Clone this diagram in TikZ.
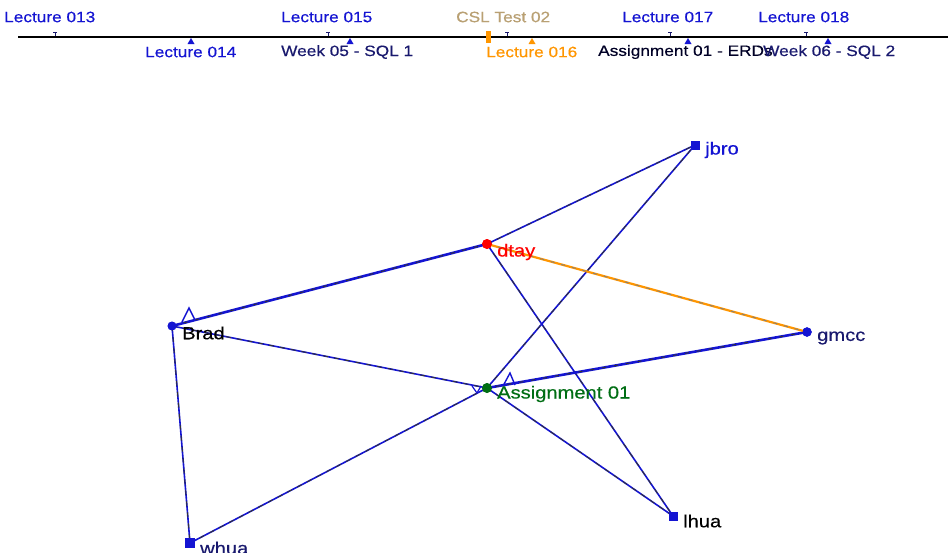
\documentclass[tikz,border=0pt]{standalone}
\usepackage{fontspec}
\newfontfamily\lab[FakeStretch=1.15,FakeBold=0.4]{Liberation Sans}
\definecolor{lblue}{RGB}{20,20,210}
\definecolor{navy}{RGB}{25,25,110}
\definecolor{dgreen}{RGB}{0,110,20}
\definecolor{orng}{RGB}{255,150,0}
\definecolor{cslc}{RGB}{185,160,115}
\begin{document}
\begin{tikzpicture}[x=1pt,y=-1pt,
  tl/.style={inner sep=0pt,anchor=west,font=\lab\fontsize{15}{16}\selectfont},
  gl/.style={inner sep=0pt,anchor=west,font=\lab\fontsize{17.5}{18}\selectfont},
  sq/.style={fill=lblue,draw=lblue,inner sep=0pt,minimum size=8pt,rectangle},
  dot/.style={fill=#1,draw=#1,inner sep=0pt,minimum size=9pt,circle},
  lnk/.style={draw=lblue,line width=1.6pt,postaction={draw=black!80,line width=0.9pt,dash pattern=on 5pt off 6pt}},
  thk/.style={draw=lblue,line width=2.6pt,postaction={draw=black!80,line width=0.9pt,dash pattern=on 4pt off 8pt}},
  org/.style={draw=orng,line width=2.2pt,postaction={draw=gray,line width=0.8pt,dash pattern=on 4pt off 7pt}},
  uptick/.style={draw=navy,line width=1pt}]
\useasboundingbox (0,0) rectangle (948,552);
\fill[white] (0,0) rectangle (948,552);
% timeline
\coordinate (ts) at (18,37);
\coordinate (te) at (948,37);
\draw[black,line width=1.4pt] (ts) -- (te);
% ticks above
\foreach \x in {55,328,507,670,806} {\draw[uptick] (\x,32.5) -- (\x,36); \draw[uptick,line width=0.8pt] (\x-2,32.5) -- (\x+2,32.5);}
% triangles below
\foreach \x in {191,350,688,828} {\fill[lblue] (\x-3.5,44) -- (\x,38) -- (\x+3.5,44) -- cycle;}
\fill[orng] (528.5,44) -- (532,38) -- (535.5,44) -- cycle;
\fill[orng] (486,31) rectangle (491,43);
% timeline labels
\node[tl,text=lblue] (l13) at (4,17) {Lecture 013};
\node[tl,text=lblue] (l14) at (145,52) {Lecture 014};
\node[tl,text=lblue] (l15) at (281,17) {Lecture 015};
\node[tl,text=navy] (w05) at (281,52) {Week 05 - SQL 1};
\node[tl,text=cslc] (csl) at (456,17) {CSL Test 02};
\node[tl,text=orng] (l16) at (486,52) {Lecture 016};
\node[tl,text=lblue] (l17) at (622,17) {Lecture 017};
\node[tl,text=black!85!blue] (a01) at (598,52) {Assignment 01 - ERDs};
\node[tl,text=lblue] (l18) at (758,17) {Lecture 018};
\node[tl,text=navy] (w06) at (763,52) {Week 06 - SQL 2};
% graph nodes
\node[sq] (jbro) at (695,145) {};
\node[dot=red] (dtay) at (487,244) {};
\node[dot=lblue,minimum size=8pt] (brad) at (172,326) {};
\node[dot=lblue] (gmcc) at (807,332) {};
\node[dot=dgreen] (asg) at (487,388) {};
\node[sq,minimum size=9pt] (whua) at (190,543) {};
\node[sq] (lhua) at (673,516) {};
% edges
\draw[lnk] (dtay.center) -- (jbro.center);
\draw[lnk] (asg.center) -- (jbro.center);
\draw[lnk] (dtay.center) -- (lhua.center);
\draw[lnk] (brad.center) -- (asg.center);
\draw[lnk] (asg.center) -- (lhua.center);
\draw[lnk] (asg.center) -- (whua.center);
\draw[lnk] (brad.center) -- (whua.center);
\draw[thk] (brad.center) -- (dtay.center);
\draw[thk] (gmcc.center) -- (asg.center);
\draw[org] (dtay.center) -- (gmcc.center);
% redraw node marks on top
\fill[lblue] (jbro.south west) rectangle (jbro.north east);
\fill[red] (dtay) circle (5pt);
\fill[lblue] (brad) circle (4.5pt);
\fill[lblue] (gmcc) circle (4.5pt);
\fill[dgreen] (asg) circle (5pt);
\fill[lblue] (whua.south west) rectangle (whua.north east);
\fill[lblue] (lhua.south west) rectangle (lhua.north east);
% arrowhead marks
\draw[lblue,line width=1.4pt] (182,322) -- (189,308) -- (195,320);
\draw[lblue,line width=1.4pt] (503,386) -- (510,373) -- (515,385);
\draw[lblue,line width=1.2pt] (472,386) -- (477,393) -- (481,386);
% graph labels
\node[gl,text=lblue] (tjbro) at (705,150) {jbro};
\node[gl,text=red] (tdtay) at (497,252) {dtay};
\node[gl,text=black] (tbrad) at (182,333) {Brad};
\node[gl,text=navy] (tgmcc) at (817,338) {gmcc};
\node[gl,text=dgreen] (tasg) at (497,394) {Assignment 01};
\node[gl,text=black] (tlhua) at (683,521) {lhua};
\node[gl,text=navy] (twhua) at (200,548) {whua};
\end{tikzpicture}
\end{document}
